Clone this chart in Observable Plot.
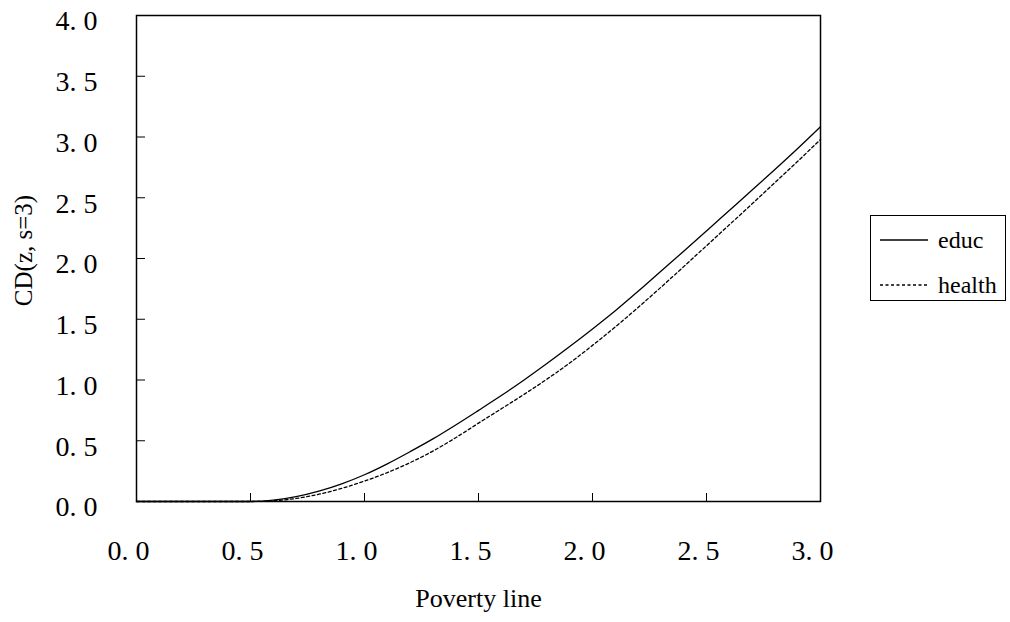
<!DOCTYPE html>
<html>
<head>
<meta charset="utf-8">
<script src="https://cdn.jsdelivr.net/npm/d3@7"></script>
<script src="https://cdn.jsdelivr.net/npm/@observablehq/plot@0.6"></script>
<style>
  html, body { margin: 0; padding: 0; background: #fff; }
  #wrap { position: relative; width: 1010px; height: 622px; }
  #legend {
    position: absolute; left: 870px; top: 215px; width: 134px; height: 84px;
    border: 1.5px solid #000; background: #fff;
    font-family: "Liberation Serif", "DejaVu Serif", serif; font-size: 24px; color: #000;
  }
  .row { position: absolute; left: 0; height: 30px; display: flex; align-items: center; }
  .row svg { margin-left: 9px; margin-right: 10px; }
</style>
</head>
<body>
<div id="wrap"><div id="chart"></div>
  <div id="legend">
    <div class="row" style="top:9px"><svg width="48" height="4"><line x1="0" y1="2" x2="48" y2="2" stroke="#000" stroke-width="1.3"/></svg><span>educ</span></div>
    <div class="row" style="top:54px"><svg width="48" height="4"><line x1="0" y1="2" x2="48" y2="2" stroke="#000" stroke-width="1.3" stroke-dasharray="3,2.5"/></svg><span>health</span></div>
  </div>
</div>
<script>
const povertyLine = [0.0,0.1,0.2,0.3,0.4,0.5,0.6,0.7,0.8,0.9,1.0,1.1,1.2,1.3,1.4,1.5,1.6,1.7,1.8,1.9,2.0,2.1,2.2,2.3,2.4,2.5,2.6,2.7,2.8,2.9,3.0];
const educ   = [0,0,0,0,0,0,0.012,0.04,0.085,0.145,0.22,0.31,0.41,0.515,0.63,0.75,0.872,1.0,1.135,1.275,1.42,1.57,1.73,1.895,2.06,2.227,2.395,2.563,2.733,2.906,3.085];
const health = [0,0,0,0,0,0,0.006,0.025,0.06,0.108,0.168,0.238,0.32,0.415,0.525,0.645,0.763,0.882,1.007,1.14,1.285,1.437,1.597,1.763,1.933,2.105,2.277,2.45,2.625,2.80,2.98];

const xTicks = [0, 0.5, 1.0, 1.5, 2.0, 2.5, 3.0];
const xTickLabels = ["0. 0", "0. 5", "1. 0", "1. 5", "2. 0", "2. 5", "3. 0"];
const yTicks = [0, 0.5, 1.0, 1.5, 2.0, 2.5, 3.0, 3.5, 4.0];
const yTickLabels = ["0. 0", "0. 5", "1. 0", "1. 5", "2. 0", "2. 5", "3. 0", "3. 5", "4. 0"];
const xTitle = "Poverty line";
const yTitle = "CD(z, s=3)";

const educData = povertyLine.map((x, i) => ({x, y: educ[i]}));
const healthData = povertyLine.map((x, i) => ({x, y: health[i]}));

const chart = Plot.plot({
  width: 1010,
  height: 622,
  marginLeft: 136,
  marginRight: 190,
  marginTop: 15,
  marginBottom: 121,
  style: { fontFamily: "Liberation Serif, DejaVu Serif, serif", color: "#000", background: "#fff" },
  x: { domain: [0, 3] },
  y: { domain: [0, 4] },
  marks: [
    Plot.axisX(xTicks, { tickSize: 0, tickPadding: 39, dx: -8, fontSize: 28,
      tickFormat: d => xTickLabels[xTicks.indexOf(d)], label: null }),
    Plot.axisY(yTicks, { tickSize: 0, tickPadding: 39, dy: 6, fontSize: 28,
      tickFormat: d => yTickLabels[yTicks.indexOf(d)], label: null }),
    Plot.tickX(xTicks, { x: d => d, insetTop: 478, stroke: "#000", strokeWidth: 1 }),
    Plot.tickY(yTicks, { y: d => d, insetRight: 675, stroke: "#000", strokeWidth: 1 }),
    Plot.line(healthData, { x: "x", y: "y", stroke: "#000", strokeWidth: 1.3, strokeDasharray: "3,2.5", curve: "monotone-x" }),
    Plot.line(educData, { x: "x", y: "y", stroke: "#000", strokeWidth: 1.3, curve: "monotone-x" }),
    Plot.frame({ stroke: "#000", strokeWidth: 1.5 }),
    Plot.text([xTitle], { frameAnchor: "bottom", textAnchor: "middle", lineAnchor: "middle", dy: 97, fontSize: 26, fill: "#000" }),
    Plot.text([yTitle], { frameAnchor: "left", textAnchor: "middle", lineAnchor: "middle", rotate: -90, dx: -113, dy: -8, fontSize: 25, fill: "#000" })
  ]
});
document.getElementById("chart").appendChild(chart);
</script>
</body>
</html>
